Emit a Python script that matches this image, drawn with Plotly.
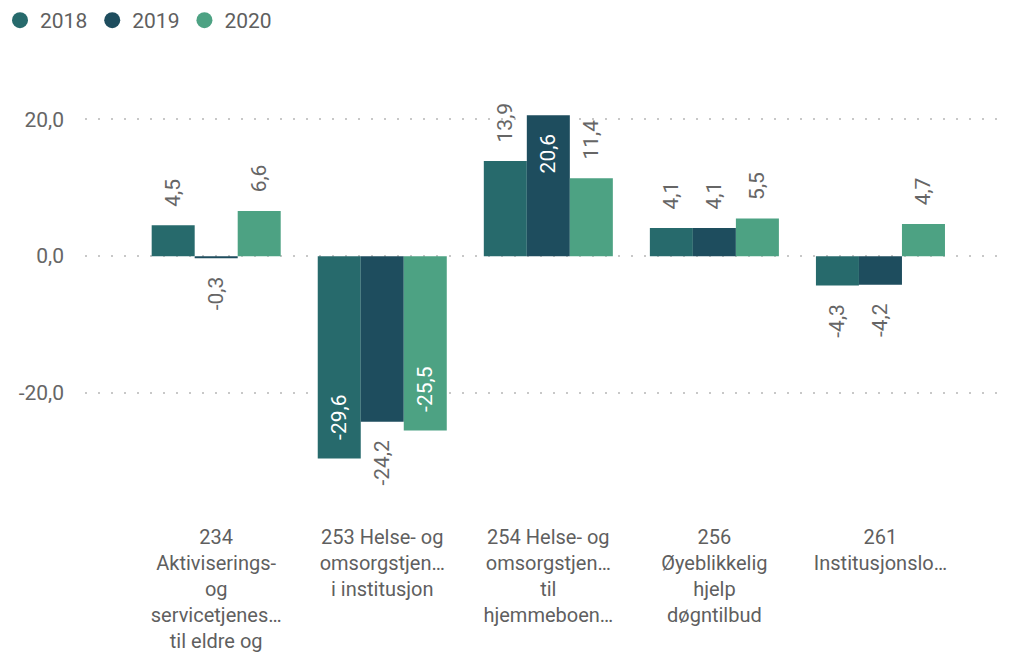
import plotly.graph_objects as go

# Category labels (pre-wrapped as shown on the axis)
categories = [
    "234<br>Aktiviserings-<br>og<br>servicetjenes…<br>til eldre og",
    "253 Helse- og<br>omsorgstjen…<br>i institusjon",
    "254 Helse- og<br>omsorgstjen…<br>til<br>hjemmeboen…",
    "256<br>Øyeblikkelig<br>hjelp<br>døgntilbud",
    "261<br>Institusjonslo…",
]

years = ["2018", "2019", "2020"]
values_2018 = [4.5, -29.6, 13.9, 4.1, -4.3]
values_2019 = [-0.3, -24.2, 20.6, 4.1, -4.2]
values_2020 = [6.6, -25.5, 11.4, 5.5, 4.7]

# Labels drawn inside the bar end instead of outside
inside_2018 = [False, True, False, False, False]
inside_2019 = [False, False, True, False, False]
inside_2020 = [False, True, False, False, False]

colors = ["#276A6C", "#1E4D5E", "#4DA283"]
tick_vals = [-20, 0, 20]

FONT = "Roboto"
LABEL_GREY = "#666666"
AXIS_GREY = "#5F5F5F"
PAD = "\u00a0\u00a0\u00a0"


def fmt(v):
    return f"{v:.1f}".replace(".", ",")


def label_text(v, inside):
    s = fmt(v)
    # Rotated text reads bottom-to-top, pad the side that faces the bar end
    if inside:
        return s + PAD if v >= 0 else PAD + s
    return PAD + s if v >= 0 else s + PAD


x_idx = list(range(len(categories)))
fig = go.Figure()

for name, vals, ins, col in zip(
    years,
    [values_2018, values_2019, values_2020],
    [inside_2018, inside_2019, inside_2020],
    colors,
):
    fig.add_trace(go.Bar(
        x=x_idx,
        y=vals,
        name=name,
        legendgroup=name,
        showlegend=False,
        marker=dict(color=col, line=dict(width=0)),
        text=[label_text(v, i) for v, i in zip(vals, ins)],
        textposition=["inside" if i else "outside" for i in ins],
        insidetextanchor="end",
        textangle=-90,
        constraintext="none",
        cliponaxis=False,
        insidetextfont=dict(family=FONT, size=21, color="white"),
        outsidetextfont=dict(family=FONT, size=21, color=LABEL_GREY),
        hoverinfo="skip",
    ))
    # Round legend swatch
    fig.add_trace(go.Scatter(
        x=[None], y=[None], mode="markers", name=name, legendgroup=name,
        marker=dict(color=col, size=16, symbol="circle"),
        showlegend=True, hoverinfo="skip",
    ))

fig.update_layout(
    width=1010,
    height=654,
    margin=dict(l=85, r=5, t=92, b=138),
    paper_bgcolor="white",
    plot_bgcolor="white",
    barmode="group",
    bargap=0.223,
    bargroupgap=0,
    separators=", ",
    font=dict(family=FONT, size=21, color=LABEL_GREY),
    showlegend=True,
    legend=dict(
        orientation="h",
        xref="container", yref="container",
        x=0.0, y=1.0, xanchor="left", yanchor="top",
        font=dict(family=FONT, size=21, color=AXIS_GREY),
        itemwidth=30,
        bgcolor="rgba(0,0,0,0)",
    ),
)

fig.update_xaxes(
    range=[-0.79, 4.75],
    tickmode="array",
    tickvals=x_idx,
    ticktext=categories,
    showgrid=False,
    zeroline=False,
    showline=False,
    ticks="",
    ticklabelstandoff=7,
    automargin=False,
    tickfont=dict(family=FONT, size=20, color=AXIS_GREY),
)

fig.update_yaxes(
    range=[-38, 24],
    tickmode="array",
    tickvals=tick_vals,
    ticktext=[fmt(v) for v in tick_vals],
    showgrid=True,
    gridcolor="#C8C8C8",
    gridwidth=2,
    griddash="2px,11px",
    zeroline=False,
    showline=False,
    ticks="",
    ticklabelstandoff=20,
    automargin=False,
    tickfont=dict(family=FONT, size=21, color=LABEL_GREY),
)

fig.write_html("out.html")
